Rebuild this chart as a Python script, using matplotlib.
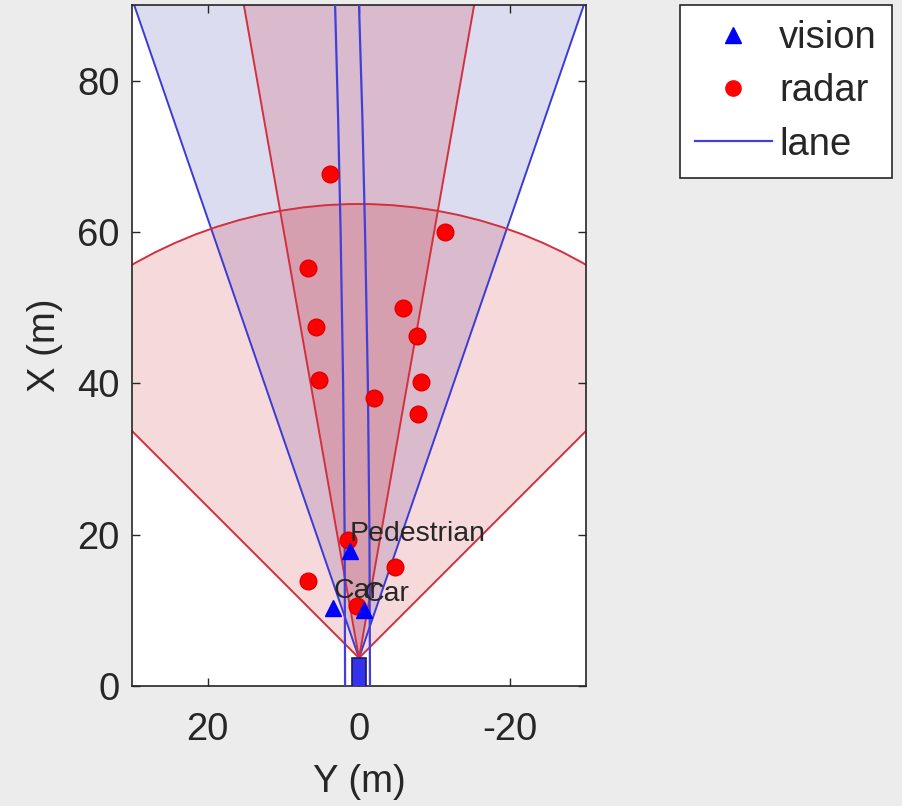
import matplotlib
matplotlib.use("Agg")
import matplotlib.pyplot as plt
from matplotlib.patches import Wedge, Rectangle
from matplotlib.lines import Line2D
import numpy as np

plt.rcParams['font.family'] = ['Liberation Sans', 'DejaVu Sans']
plt.rcParams['axes.unicode_minus'] = False

# ---- data ----
# sensor coverage: field of view (deg), max range (m), sensor kind
sensor_fov = [38, 20, 90]
sensor_range = [150, 174, 60]
sensor_kind = ['vision', 'radar', 'radar']
sensor_mount_x = 3.7

# radar detections (Y lateral, X longitudinal), m
radar_y = [3.8, -11.3, 6.7, -5.8, 5.7, -7.7, 5.35, -8.2, -2.0, -7.8, 1.5, -4.7, 6.7, 0.3]
radar_x = [67.7, 60.0, 55.3, 50.0, 47.5, 46.2, 40.5, 40.2, 38.0, 36.0, 19.3, 15.7, 13.9, 10.6]

# vision detections
vision_y = [1.2, 3.4, -0.65]
vision_x = [17.9, 10.3, 10.0]
vision_labels = ['Pedestrian', 'Car', 'Car']

# lane boundaries
lane_x = [0, 20, 40, 60, 75, 90]
lane_left_y = [1.84, 1.90, 2.10, 2.43, 2.76, 3.16]
lane_right_y = [-1.45, -1.38, -1.17, -0.80, -0.45, 0.0]

# ego car
ego_length = 4.7
ego_width = 1.8
ego_rear = -1.0

xticks = [20, 0, -20]
yticks = [0, 20, 40, 60, 80]

W, H = 902, 806
fig = plt.figure(figsize=(W / 100, H / 100), dpi=100, facecolor='#ececec')
ax = fig.add_axes([132 / W, 1 - 686 / H, (586 - 132) / W, (686 - 5) / H])
ax.set_facecolor('white')

FS = 27.5
dark = '#262626'

fill_colors = {'vision': '#1616a0', 'radar': '#c80008'}
edge_colors = {'vision': '#3a3ad6', 'radar': '#d2303f'}
for fov, rng, kind in zip(sensor_fov, sensor_range, sensor_kind):
    w = Wedge((0, sensor_mount_x), rng, 90 - fov / 2, 90 + fov / 2,
              facecolor=fill_colors[kind], alpha=0.15, edgecolor='none', zorder=1)
    ax.add_patch(w)
    w2 = Wedge((0, sensor_mount_x), rng, 90 - fov / 2, 90 + fov / 2,
               facecolor='none', edgecolor=edge_colors[kind], lw=1.4, zorder=2)
    ax.add_patch(w2)

ax.plot(lane_left_y, lane_x, color='#4040d8', lw=1.6, zorder=3)
ax.plot(lane_right_y, lane_x, color='#4040d8', lw=1.6, zorder=3)

ax.add_patch(Rectangle((-ego_width / 2, ego_rear), ego_width, ego_length,
                       facecolor='#3333ee', edgecolor='#1a1a60', lw=1.2, zorder=4))

ax.plot(radar_y, radar_x, 'o', color='#ff0000', mec='#e00000', ms=12, zorder=5)
ax.plot(vision_y, vision_x, '^', color='#0000ff', ms=12, zorder=6)
for y, x, lab in zip(vision_y, vision_x, vision_labels):
    ax.text(y, x + 2.2, lab, fontsize=20.5, color=dark, ha='left', va='center', zorder=7)

ax.set_xlim(30, -30)
ax.set_ylim(0, 90)
ax.set_xticks(xticks)
ax.set_yticks(yticks)
ax.tick_params(direction='in', length=6, top=True, right=True, labelsize=FS,
               colors=dark, width=1)
ax.tick_params(axis='x', pad=19)
ax.tick_params(axis='y', pad=9)
for s in ax.spines.values():
    s.set_color(dark)
    s.set_linewidth(1.2)
ax.set_xlabel('Y (m)', fontsize=FS, color=dark, labelpad=11)
ax.set_ylabel('X (m)', fontsize=FS, color=dark, labelpad=10)

handles = [Line2D([], [], marker='^', ls='none', color='#0000ff', ms=12),
           Line2D([], [], marker='o', ls='none', color='#ff0000', ms=11),
           Line2D([], [], color='#4040d8', lw=1.6)]
leg = fig.legend(handles, ['vision', 'radar', 'lane'], loc='upper left',
                 bbox_to_anchor=(680 / W, 1 - 5 / H), fontsize=FS, frameon=True,
                 fancybox=False, handlelength=2.0, handletextpad=0.2,
                 labelspacing=0.45, borderpad=0.4, borderaxespad=0)
leg.get_frame().set_edgecolor(dark)
leg.get_frame().set_linewidth(1.2)
leg.get_frame().set_alpha(1)
for t in leg.get_texts():
    t.set_color(dark)

fig.savefig('out.png', dpi=100, facecolor=fig.get_facecolor())
